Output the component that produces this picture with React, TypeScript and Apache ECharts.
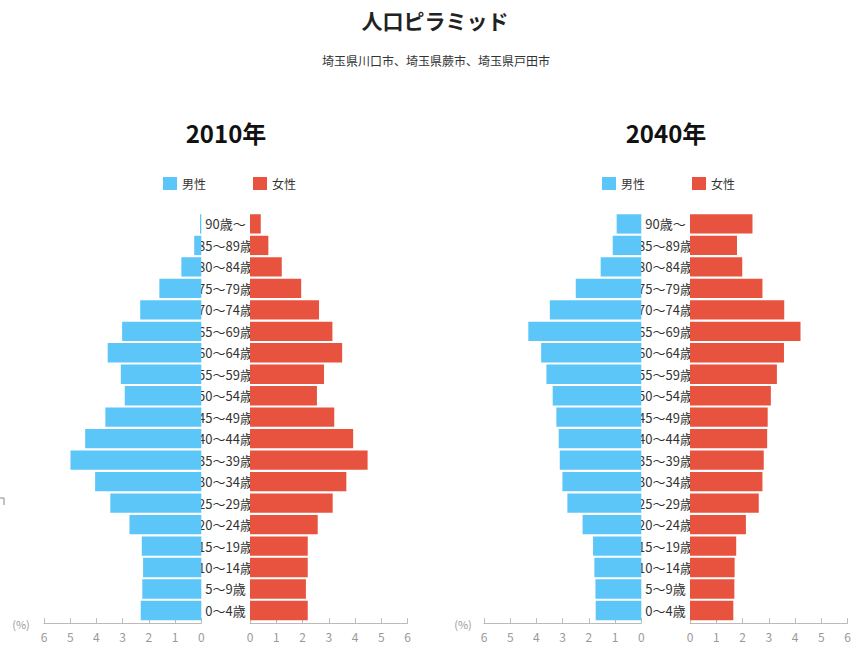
import React, { useEffect, useRef } from "react";
import * as echarts from "echarts";

const ages = [
  "0～4歳", "5～9歳", "10～14歳", "15～19歳", "20～24歳", "25～29歳", "30～34歳",
  "35～39歳", "40～44歳", "45～49歳", "50～54歳", "55～59歳", "60～64歳", "65～69歳",
  "70～74歳", "75～79歳", "80～84歳", "85～89歳", "90歳～",
];

// values from 0～4歳 up to 90歳～ (%)
const male2010 = [2.31, 2.25, 2.22, 2.27, 2.74, 3.47, 4.05, 4.99, 4.43, 3.66, 2.92, 3.07, 3.57, 3.02, 2.33, 1.6, 0.76, 0.27, 0.05];
const female2010 = [2.2, 2.13, 2.2, 2.2, 2.58, 3.15, 3.67, 4.48, 3.93, 3.21, 2.55, 2.82, 3.51, 3.14, 2.63, 1.95, 1.21, 0.7, 0.41];
const male2040 = [1.74, 1.75, 1.79, 1.84, 2.24, 2.82, 3.01, 3.11, 3.15, 3.24, 3.38, 3.62, 3.82, 4.31, 3.49, 2.5, 1.55, 1.09, 0.94];
const female2040 = [1.65, 1.69, 1.7, 1.76, 2.13, 2.62, 2.76, 2.81, 2.94, 2.96, 3.08, 3.31, 3.58, 4.21, 3.59, 2.76, 1.99, 1.79, 2.38];

const legendNames = ["男性", "女性"];
const xTicks = { min: 0, max: 6, interval: 1 };

const BLUE = "#5cc6f8";
const RED = "#e8533f";
const FONT = "'Noto Sans CJK JP', 'Noto Sans', sans-serif";

export default function App() {
  const ref = useRef<HTMLDivElement>(null);

  useEffect(() => {
    document.body.style.margin = "0";
    if (!ref.current) return;
    const chart = echarts.init(ref.current, null, { renderer: "svg" });

    const top = 213.2;
    const height = 408;
    const grids = [
      { left: 44, top, width: 157.3, height },
      { left: 250, top, width: 157.5, height },
      { left: 484, top, width: 157.3, height },
      { left: 690, top, width: 157.5, height },
    ];

    const xAxis = grids.map((_, i) => ({
      type: "value",
      gridIndex: i,
      min: xTicks.min,
      max: xTicks.max,
      interval: xTicks.interval,
      inverse: i % 2 === 0,
      offset: 2,
      axisLine: { show: true, lineStyle: { color: "#bbbbbb" } },
      axisTick: { show: true, inside: true, length: 5, lineStyle: { color: "#bbbbbb" } },
      axisLabel: { color: "#9a9a9a", fontSize: 12, fontFamily: FONT, margin: 7 },
      splitLine: { show: false },
    }));

    const yAxis = grids.map((_, i) => ({
      type: "category",
      gridIndex: i,
      data: ages,
      show: i % 2 === 1,
      axisLine: { show: false },
      axisTick: { show: false },
      axisLabel: {
        show: i % 2 === 1,
        interval: 0,
        align: "center",
        margin: 24.5,
        color: "#333333",
        fontSize: 13,
        fontFamily: FONT,
        padding: [0, 0, 4, 0],
      },
      splitLine: { show: false },
    }));

    const datasets = [male2010, female2010, male2040, female2040];
    const series = datasets.map((d, i) => ({
      name: legendNames[i % 2],
      type: "bar",
      xAxisIndex: i,
      yAxisIndex: i,
      data: d,
      barCategoryGap: "10%",
      itemStyle: { color: i % 2 === 0 ? BLUE : RED },
      z: 3,
    }));

    const legendCommon = {
      data: legendNames,
      top: 177,
      padding: 0,
      icon: "rect",
      itemWidth: 14,
      itemHeight: 13,
      itemGap: 47,
      textStyle: { color: "#333333", fontSize: 12, fontFamily: FONT },
    };

    chart.setOption({
      animation: false,
      backgroundColor: "#ffffff",
      grid: grids,
      xAxis,
      yAxis,
      series,
      legend: [
        { ...legendCommon, left: 163 },
        { ...legendCommon, left: 602 },
      ],
      graphic: [
        {
          type: "text",
          x: 435,
          y: 20,
          style: { text: "人口ピラミッド", fill: "#222222", fontSize: 21, fontWeight: "bold", fontFamily: FONT, textAlign: "center", textVerticalAlign: "middle" },
        },
        {
          type: "text",
          x: 436,
          y: 60,
          style: { text: "埼玉県川口市、埼玉県蕨市、埼玉県戸田市", fill: "#333333", fontSize: 12, fontFamily: FONT, textAlign: "center", textVerticalAlign: "middle" },
        },
        {
          type: "text",
          x: 226,
          y: 132,
          style: { text: "2010年", fill: "#111111", fontSize: 24, fontWeight: "bold", fontFamily: FONT, textAlign: "center", textVerticalAlign: "middle" },
        },
        {
          type: "text",
          x: 666,
          y: 132,
          style: { text: "2040年", fill: "#111111", fontSize: 24, fontWeight: "bold", fontFamily: FONT, textAlign: "center", textVerticalAlign: "middle" },
        },
        {
          type: "text",
          x: 21,
          y: 624,
          style: { text: "(%)", fill: "#9a9a9a", fontSize: 11, fontFamily: FONT, textAlign: "center", textVerticalAlign: "middle" },
        },
        {
          type: "text",
          x: 463,
          y: 624,
          style: { text: "(%)", fill: "#9a9a9a", fontSize: 11, fontFamily: FONT, textAlign: "center", textVerticalAlign: "middle" },
        },
        {
          type: "polyline",
          shape: { points: [[0, 498], [4, 498], [4, 505]] },
          style: { stroke: "#888888", lineWidth: 1, fill: "none" },
        },
      ],
    });

    return () => chart.dispose();
  }, []);

  return <div ref={ref} style={{ width: 854, height: 645 }} />;
}
